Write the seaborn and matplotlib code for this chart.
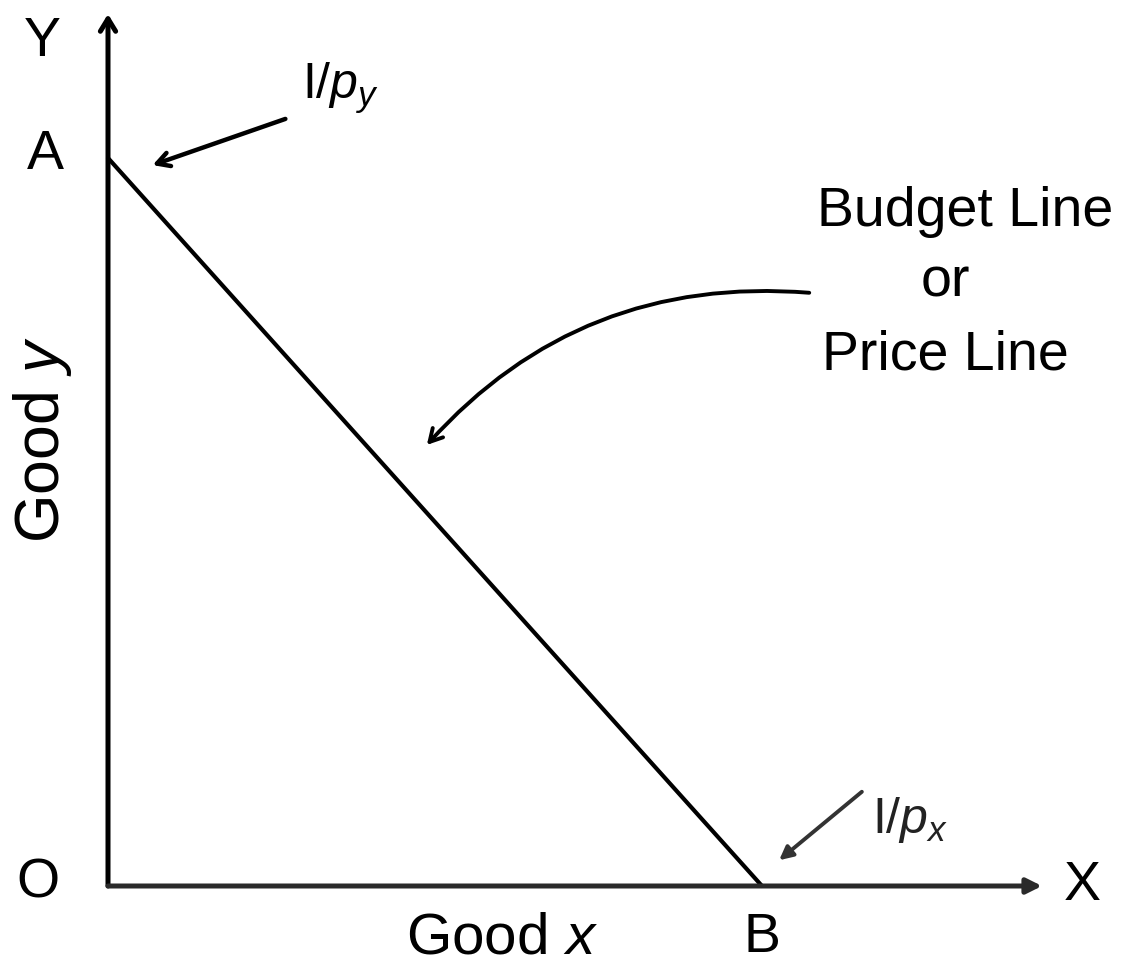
import numpy as np
import pandas as pd
import matplotlib.pyplot as plt
import seaborn as sns

# ---------------------------------------------------
# Budget line data (income and prices)
# ---------------------------------------------------
income = 120
price_x = 12
price_y = 20

# intercepts: A on the y axis, B on the x axis
qty_x = [0, income / price_x]
qty_y = [income / price_y, 0]
df = pd.DataFrame({"good_x": qty_x, "good_y": qty_y})

# ---------------------------------------------------
# Figure setup
# ---------------------------------------------------
sns.set_style("white")
plt.rcParams["font.family"] = ["Liberation Sans", "DejaVu Sans"]
plt.rcParams["text.color"] = "black"
plt.rcParams["mathtext.fontset"] = "custom"
plt.rcParams["mathtext.it"] = "Liberation Sans:italic"
plt.rcParams["mathtext.rm"] = "Liberation Sans"

fig = plt.figure(figsize=(11.48, 9.73), dpi=100)
ax = fig.add_axes([0, 0, 1, 1])

W, H = 1148, 973
ox, oy = 108, 886                  # origin in pixels
sx = (762 - ox) / qty_x[1]         # pixels per unit of x
sy = (oy - 158) / qty_y[0]         # pixels per unit of y
ax.set_xlim(-ox / sx, (W - ox) / sx)
ax.set_ylim(-(H - oy) / sy, oy / sy)
ax.axis("off")


def fx(px):
    return px / W


def fy(py):
    return 1 - py / H


# budget line
sns.lineplot(data=df, x="good_x", y="good_y", color="black", lw=3, ax=ax)

# axes with arrows
ax.annotate("", xy=(0, (oy - 14) / sy), xytext=(0, 0),
            arrowprops=dict(arrowstyle="->,head_length=0.9,head_width=0.55",
                            color="black", lw=3.6, shrinkA=0, shrinkB=0))
ax.annotate("", xy=((1042 - ox) / sx, 0), xytext=(0, 0),
            arrowprops=dict(arrowstyle="-|>,head_length=0.9,head_width=0.45",
                            color="#2a2a2a", lw=3.6, shrinkA=0, shrinkB=0))

tr = ax.transAxes
fs = 40
ax.text(fx(42), fy(42), "Y", transform=tr, fontsize=fs, ha="center", va="center")
ax.text(fx(1082), fy(886), "X", transform=tr, fontsize=fs, ha="center", va="center")
ax.text(fx(45), fy(155), "A", transform=tr, fontsize=fs, ha="center", va="center")
ax.text(fx(38), fy(884), "O", transform=tr, fontsize=fs, ha="center", va="center")
ax.text(fx(762), fy(938), "B", transform=tr, fontsize=fs, ha="center", va="center")
ax.text(fx(502), fy(938), r"Good $x$", transform=tr, fontsize=42, ha="center", va="center")
ax.text(fx(42), fy(440), r"Good $y$", transform=tr, fontsize=45, ha="center", va="center",
        rotation=90)

# budget line label
ax.text(fx(965), fy(212), "Budget Line", transform=tr, fontsize=fs, ha="center", va="center")
ax.text(fx(945), fy(283), "or", transform=tr, fontsize=fs, ha="center", va="center")
ax.text(fx(945), fy(355), "Price Line", transform=tr, fontsize=fs, ha="center", va="center")
ax.annotate("", xy=(fx(425), fy(447)), xytext=(fx(812), fy(293)), xycoords="axes fraction",
            arrowprops=dict(arrowstyle="->,head_length=0.9,head_width=0.5", color="black",
                            lw=2.8, connectionstyle="arc3,rad=0.25"))

# intercept labels
ax.text(fx(340), fy(88), r"I/$p_y$", transform=tr, fontsize=36, ha="center", va="center")
ax.annotate("", xy=(fx(150), fy(166)), xytext=(fx(288), fy(118)), xycoords="axes fraction",
            arrowprops=dict(arrowstyle="->,head_length=0.9,head_width=0.5", color="black", lw=3.2))
ax.text(fx(910), fy(820), r"I/$p_x$", transform=tr, fontsize=36, ha="center", va="center",
        color="#222222")
ax.annotate("", xy=(fx(777), fy(862)), xytext=(fx(864), fy(790)), xycoords="axes fraction",
            arrowprops=dict(arrowstyle="-|>,head_length=0.8,head_width=0.4", color="#333333",
                            lw=2.8))

plt.savefig("out.png", dpi=100)
